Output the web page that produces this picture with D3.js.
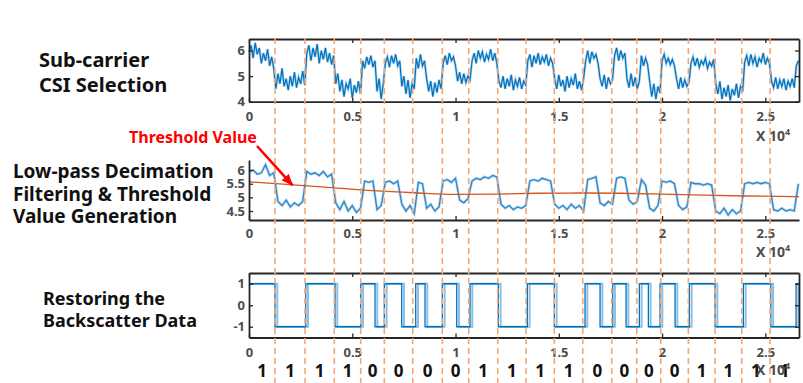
<!DOCTYPE html>
<html>
<head>
<meta charset="utf-8">
<script src="https://cdn.jsdelivr.net/npm/d3@7"></script>
<style>
  body { margin: 0; background: #fff; }
  svg { display: block; }
</style>
</head>
<body>
<div id="chart"></div>
<script>
// ---- data ----
const xMax = 26630;
const xTicks = [0, 5000, 10000, 15000, 20000, 25000];
const xTickLabels = ['0', '0.5', '1', '1.5', '2', '2.5'];

// raw sub-carrier CSI, one value every 100 samples
const csiStep = 100;
const csiRaw = [
  5.95, 6.2, 5.7, 6.3, 5.85, 6.1, 5.5, 5.9, 5.6, 6.05, 5.4, 5.75, 5.3,
  4.5, 5.1, 4.7, 5.3, 4.6, 4.9, 4.45, 5.0, 4.6, 5.15, 4.55, 4.95, 4.7, 5.2, 4.65,
  5.9, 6.2, 5.6, 6.1, 5.75, 6.25, 5.5, 6.0, 5.65, 6.1, 5.55, 5.9, 5.45, 5.8,
  4.7, 5.1, 4.4, 4.85, 4.2, 4.7, 4.5, 4.9, 4.15, 4.65, 4.35, 4.8, 4.3,
  5.6, 5.3, 5.75, 5.45, 5.8, 5.35, 5.6,
  4.4, 4.9, 4.1, 4.7,
  5.5, 5.75, 5.35, 5.8, 5.5, 5.85, 5.4, 5.6,
  4.6, 5.0, 4.3, 4.85, 4.15, 4.7, 4.5,
  5.7, 5.3, 5.85, 5.4, 5.6,
  4.9, 4.4, 4.8, 4.2, 4.75, 4.35, 4.85, 4.5,
  5.5, 5.8, 5.45, 5.9, 5.6, 5.75, 5.4,
  4.8, 5.15, 4.7, 5.1, 4.75, 5.0, 4.85,
  5.6, 5.9, 5.5, 6.0, 5.7, 5.95, 5.55, 5.85, 5.65, 6.05, 5.6, 5.9, 5.5,
  4.8, 4.55, 5.0, 4.5, 4.9, 4.6, 5.05, 4.45, 4.85, 4.6, 4.95, 4.5, 4.8, 4.65,
  5.6, 5.85, 5.35, 5.8, 5.5, 5.9, 5.45, 5.75, 5.55, 5.85, 5.4, 5.7, 5.5,
  4.9, 4.5, 5.05, 4.6, 4.85, 4.4, 5.0, 4.55, 4.9, 4.65, 5.1, 4.5, 4.8, 4.45, 4.9,
  5.6, 6.0, 5.5, 5.95, 5.7, 5.85, 5.5,
  4.9, 4.6, 5.05, 4.5, 4.95, 4.7, 4.85,
  5.8, 6.1, 5.6, 6.0, 5.7, 5.9,
  4.9, 4.55, 5.1, 4.6, 4.95, 4.5, 4.8,
  5.8, 5.4, 5.7, 5.45,
  4.8, 4.2, 4.7, 4.1, 4.6, 4.35,
  5.6, 5.85, 5.5, 5.7, 5.45, 5.65, 5.4,
  4.9, 4.5, 4.95, 4.55, 4.85, 4.6, 4.75,
  5.5, 5.75, 5.4, 5.7, 5.35, 5.6, 5.45, 5.7, 5.3, 5.55, 5.4, 5.65,
  4.7, 4.3, 4.8, 4.1, 4.55, 4.2, 4.65, 4.05, 4.5, 4.25, 4.7, 4.15, 4.6, 4.4,
  5.55, 5.8, 5.4, 5.85, 5.5, 5.75, 5.35, 5.7, 5.55, 5.9, 5.45, 5.7, 5.5,
  4.8, 4.55, 4.95, 4.5, 4.85, 4.6, 4.9, 4.45, 4.8, 4.6, 4.9, 4.55,
  5.4, 5.6
];

// low-pass decimated signal, one value every 200 samples
const filteredStep = 200;
const csiFiltered = [
  5.95, 6.0, 5.85, 5.9, 6.2, 5.8, 5.9,
  4.85, 4.7, 4.9, 4.65, 4.8, 4.7, 4.85,
  5.95, 5.85, 5.9, 5.8, 5.95, 5.75, 5.85,
  4.8, 4.55, 4.85, 4.5, 4.7, 4.45, 4.6,
  5.6, 5.55, 5.6,
  4.55, 4.7,
  5.55, 5.6, 5.5, 5.6,
  4.75, 4.5, 4.7, 4.4,
  5.55, 5.5,
  4.6, 4.75, 4.5, 4.65,
  5.6, 5.65, 5.55, 5.7,
  4.9, 4.8, 4.95,
  5.6, 5.7, 5.65, 5.75, 5.7, 5.8, 5.75,
  4.75, 4.6, 4.7, 4.55, 4.65, 4.6, 4.7,
  5.6, 5.65, 5.6, 5.7, 5.65, 5.6,
  4.75, 4.6, 4.7, 4.55, 4.75, 4.6, 4.7, 4.5,
  5.65, 5.7, 5.75,
  4.8, 4.7, 4.85, 4.75,
  5.7, 5.75, 5.7,
  4.9, 4.75, 4.85,
  5.65, 5.45,
  4.6, 4.5, 4.7,
  5.6, 5.55, 5.6, 5.5,
  4.7, 4.55, 4.65,
  5.55, 5.5, 5.5, 5.45, 5.5, 5.45,
  4.5, 4.4, 4.6, 4.35, 4.55, 4.4, 4.5,
  5.5, 5.55, 5.5, 5.55, 5.5, 5.55, 5.5,
  4.55, 4.5, 4.6, 4.5, 4.55, 4.5,
  5.5
];

// threshold curve
const thresholdX = [0, 2000, 4000, 6000, 8000, 10000, 12000, 14000, 16000, 18000, 20000, 22000, 24000, 26630];
const thresholdY = [5.57, 5.47, 5.36, 5.25, 5.17, 5.11, 5.12, 5.15, 5.16, 5.15, 5.12, 5.08, 5.05, 5.03];

// restored square wave (step after each edge)
const squareEdges = [0, 1259, 2746, 4165, 5409, 6102, 6552, 7395, 8073, 8523, 9361, 10058, 10702, 12073,
  13477, 14785, 16271, 16998, 17613, 18257, 18901, 19337, 19903, 20630, 21322, 22567, 23937, 25264, 26489, 26630];
const squareLevels = [1, -1, 1, -1, 1, -1, 1, -1, 1, -1, 1, -1, 1, -1,
  1, -1, 1, -1, 1, -1, 1, -1, 1, -1, 1, -1, 1, -1, 1, 1];
const squareLag = 110;

// bit slots
const bitBoundaries = [1259, 2712, 4131, 5409, 6552, 7927, 9361, 10639, 12044, 13414, 14785, 16160,
  17564, 18775, 19937, 21274, 22567, 23860, 25230];
const bits = [1, 1, 1, 1, 0, 0, 0, 0, 1, 1, 1, 1, 0, 0, 0, 0, 1, 1, 1, 1];

const topYTicks = [4, 5, 6];
const midYTicks = [4.5, 5, 5.5, 6];
const midYTickLabels = ['4.5', '5', '5.5', '6'];
const botYTicks = [-1, 0, 1];

const stageTitles = [
  { lines: ['Sub-carrier', 'CSI Selection'], x: 39, y: 67, dy: 24.5, size: 20 },
  { lines: ['Low-pass Decimation', 'Filtering & Threshold', 'Value Generation'], x: 13, y: 178, dy: 22.5, size: 19 },
  { lines: ['Restoring the', 'Backscatter Data'], x: 43, y: 305, dy: 22, size: 18 }
];

// ---- drawing ----
const W = 803, H = 383;
const svg = d3.select('#chart').append('svg')
  .attr('width', W).attr('height', H);

const axisColor = '#262626';
const tickColor = '#4d4d4d';
const tickFont = '"Noto Sans", sans-serif';

const x = d3.scaleLinear().domain([0, xMax]).range([249, 799]);
const yTop = d3.scaleLinear().domain([4, 6.45]).range([101.7, 39]);
const yMid = d3.scaleLinear().domain([4.17, 6.37]).range([220, 160]);
const yBot = d3.scaleLinear().domain([-1.5, 1.5]).range([337.5, 273]);

function styleAxis(g, showText) {
  g.select('.domain').attr('stroke', axisColor).attr('stroke-width', 1.8);
  g.selectAll('.tick line').attr('stroke', axisColor).attr('stroke-width', 1.3);
  g.selectAll('.tick text')
    .attr('fill', tickColor)
    .attr('font-family', tickFont)
    .attr('font-weight', 'bold')
    .attr('font-size', '13px')
    .style('display', showText ? null : 'none');
}

function xAxisLabel(yBase) {
  const t = svg.append('text')
    .attr('x', 756).attr('y', yBase)
    .attr('fill', tickColor)
    .attr('font-family', tickFont)
    .attr('font-weight', 'bold')
    .attr('font-size', '14px');
  t.append('tspan').text('X 10');
  t.append('tspan').attr('dy', -6).attr('font-size', '9px').text('4');
}

function boxedPanel(y, yTicks, yLabels, pad) {
  const [y0, y1] = y.range();
  const bottom = svg.append('g').attr('transform', `translate(0,${y0})`)
    .call(d3.axisBottom(x).tickValues(xTicks).tickFormat((d, i) => xTickLabels[i])
      .tickSizeInner(-4).tickSizeOuter(0).tickPadding(pad));
  styleAxis(bottom, true);
  const top = svg.append('g').attr('transform', `translate(0,${y1})`)
    .call(d3.axisTop(x).tickValues(xTicks).tickSizeInner(-4).tickSizeOuter(0));
  styleAxis(top, false);
  const left = svg.append('g').attr('transform', `translate(${x.range()[0]},0)`)
    .call(d3.axisLeft(y).tickValues(yTicks).tickFormat((d, i) => yLabels[i])
      .tickSizeInner(-4).tickSizeOuter(0).tickPadding(4));
  styleAxis(left, true);
  const right = svg.append('g').attr('transform', `translate(${x.range()[1]},0)`)
    .call(d3.axisRight(y).tickValues(yTicks).tickSizeInner(-4).tickSizeOuter(0));
  styleAxis(right, false);
}

// panel 1: raw CSI
const rawLine = d3.line().x((d, i) => x(i * csiStep)).y(d => yTop(d));
svg.append('path').datum(csiRaw).attr('d', rawLine)
  .attr('fill', 'none').attr('stroke', '#7fb6e0').attr('stroke-width', 2.6).attr('opacity', 0.6);
svg.append('path').datum(csiRaw).attr('d', rawLine)
  .attr('fill', 'none').attr('stroke', '#0072BD').attr('stroke-width', 1.2);
boxedPanel(yTop, topYTicks, topYTicks.map(String), 10);
xAxisLabel(141);

// panel 2: filtered + threshold
const midLine = d3.line().x((d, i) => x(i * filteredStep)).y(d => yMid(d));
svg.append('path').datum(csiFiltered).attr('d', midLine)
  .attr('fill', 'none').attr('stroke', '#9ccaea').attr('stroke-width', 2.8).attr('opacity', 0.7);
svg.append('path').datum(csiFiltered).attr('d', midLine)
  .attr('fill', 'none').attr('stroke', '#2f86c8').attr('stroke-width', 1.3);
const thrLine = d3.line().curve(d3.curveMonotoneX)
  .x((d, i) => x(thresholdX[i])).y(d => yMid(d));
svg.append('path').datum(thresholdY).attr('d', thrLine)
  .attr('fill', 'none').attr('stroke', '#D95319').attr('stroke-width', 1.3);

const midBottom = svg.append('g').attr('transform', `translate(0,${yMid.range()[0]})`)
  .call(d3.axisBottom(x).tickValues(xTicks).tickFormat((d, i) => xTickLabels[i])
    .tickSizeInner(-4).tickSizeOuter(0).tickPadding(9));
styleAxis(midBottom, true);
const midLeft = svg.append('g').attr('transform', `translate(${x.range()[0]},0)`)
  .call(d3.axisLeft(yMid).tickValues(midYTicks).tickFormat((d, i) => midYTickLabels[i])
    .tickSizeInner(-4).tickSizeOuter(0).tickPadding(4));
styleAxis(midLeft, true);
xAxisLabel(257);

// panel 3: restored square wave
const stepLine = d3.line().curve(d3.curveStepAfter)
  .x((d, i) => x(squareEdges[i])).y(d => yBot(d));
const lagLine = d3.line().curve(d3.curveStepAfter)
  .x((d, i) => x(Math.min(xMax, squareEdges[i] + (i ? squareLag : 0)))).y(d => yBot(d));
svg.append('path').datum(squareLevels).attr('d', lagLine)
  .attr('fill', 'none').attr('stroke', '#8cc0e6').attr('stroke-width', 2);
svg.append('path').datum(squareLevels).attr('d', stepLine)
  .attr('fill', 'none').attr('stroke', '#0072BD').attr('stroke-width', 1.3);
boxedPanel(yBot, botYTicks, botYTicks.map(String), 10);

// bit slot separators
svg.append('g').selectAll('line').data(bitBoundaries).join('line')
  .attr('x1', d => x(d)).attr('x2', d => x(d))
  .attr('y1', 38).attr('y2', H)
  .attr('stroke', '#f4a673').attr('stroke-width', 1.6)
  .attr('stroke-dasharray', '6,4');

// decoded bits centred in each slot
const slotEdges = [0, ...bitBoundaries, xMax];
svg.append('g').selectAll('text').data(bits).join('text')
  .attr('x', (d, i) => x((slotEdges[i] + slotEdges[i + 1]) / 2))
  .attr('y', 377)
  .attr('text-anchor', 'middle')
  .attr('fill', '#111')
  .attr('font-family', '"Noto Sans", sans-serif')
  .attr('font-weight', 'bold')
  .attr('font-size', '17px')
  .text(d => d);
xAxisLabel(375);

// stage titles
stageTitles.forEach(s => {
  s.lines.forEach((line, i) => {
    svg.append('text')
      .attr('x', s.x).attr('y', s.y + i * s.dy)
      .attr('fill', '#111')
      .attr('font-family', '"Noto Sans", sans-serif')
      .attr('font-weight', 'bold')
      .attr('font-size', s.size + 'px')
      .text(line);
  });
});

// threshold annotation
svg.append('defs').append('marker')
  .attr('id', 'arrowHead')
  .attr('viewBox', '0 0 10 8')
  .attr('refX', 9).attr('refY', 4)
  .attr('markerWidth', 12).attr('markerHeight', 10)
  .attr('markerUnits', 'userSpaceOnUse')
  .attr('orient', 'auto')
  .append('path').attr('d', 'M0,0L10,4L0,8Z').attr('fill', '#ff0000');
svg.append('text')
  .attr('x', 129).attr('y', 143)
  .attr('fill', '#ff0000')
  .attr('font-family', '"Noto Sans", sans-serif')
  .attr('font-weight', 'bold')
  .attr('font-size', '16px')
  .text('Threshold Value');
svg.append('line')
  .attr('x1', 257).attr('y1', 146)
  .attr('x2', x(2100)).attr('y2', yMid(5.45))
  .attr('stroke', '#ff0000').attr('stroke-width', 2.6)
  .attr('marker-end', 'url(#arrowHead)');
</script>
</body>
</html>
